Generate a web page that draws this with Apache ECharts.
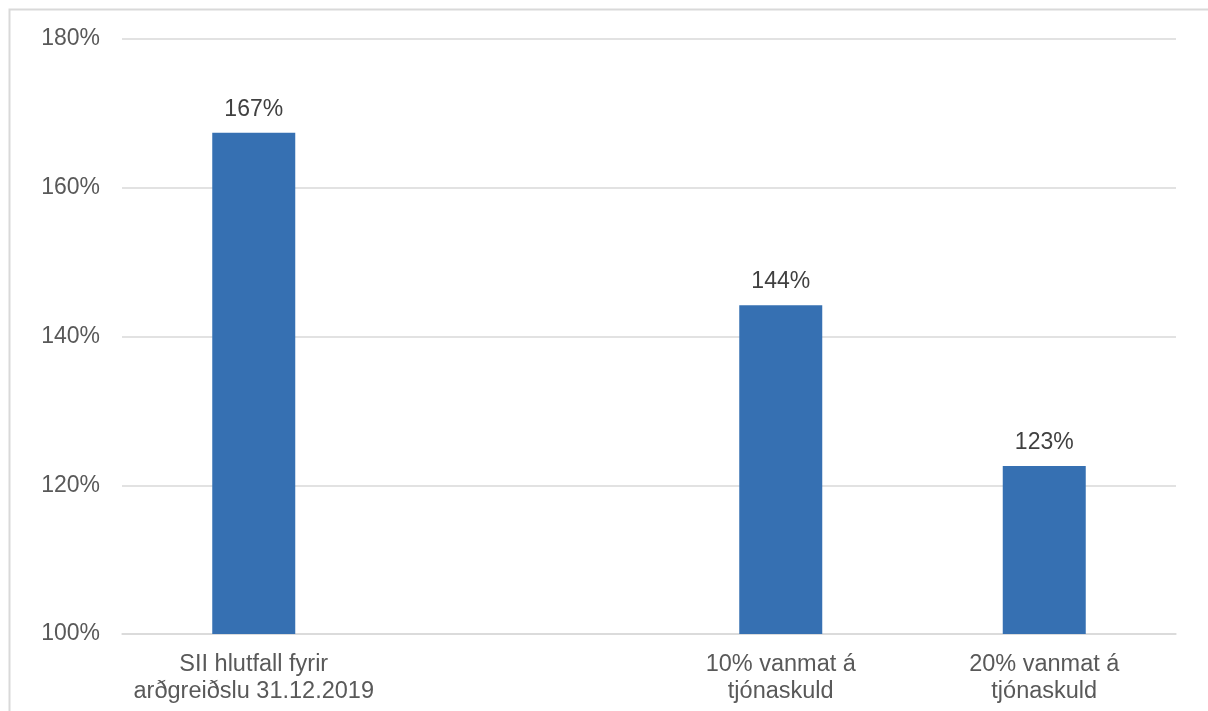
<!DOCTYPE html>
<html>
<head>
<meta charset="utf-8">
<script src="https://cdn.jsdelivr.net/npm/echarts@6/dist/echarts.min.js"></script>
<style>
  html, body { margin: 0; padding: 0; background: #ffffff; }
  #chart { width: 1208px; height: 711px; }
</style>
</head>
<body>
<div id="chart"></div>
<script>
// Solvency ratio scenarios
const categories = [
  'SII hlutfall fyrir\narðgreiðslu 31.12.2019',
  '',
  '10% vanmat á\ntjónaskuld',
  '20% vanmat á\ntjónaskuld'
];
const ratioValues = [167.4, null, 144.2, 122.6];
const yTicks = { min: 100, max: 180, step: 20 };

const chart = echarts.init(document.getElementById('chart'), null, { renderer: 'canvas' });

chart.setOption({
  backgroundColor: '#ffffff',
  animation: false,
  textStyle: { fontFamily: '"Liberation Sans", Arial, sans-serif' },
  graphic: [{
    type: 'rect',
    shape: { x: 9.5, y: 9.5, width: 1400, height: 900 },
    style: { fill: 'none', stroke: '#d9d9d9', lineWidth: 2 },
    silent: true
  }],
  grid: { left: 122, right: 32, top: 39, bottom: 77, containLabel: false },
  xAxis: {
    type: 'category',
    data: categories,
    axisLine: { show: true, lineStyle: { color: '#d9d9d9', width: 1.5 } },
    axisTick: { show: false },
    axisLabel: {
      color: '#595959',
      fontSize: 23.5,
      lineHeight: 27,
      margin: 17,
      interval: 0
    }
  },
  yAxis: {
    type: 'value',
    min: yTicks.min,
    max: yTicks.max,
    interval: yTicks.step,
    axisLine: { show: false },
    axisTick: { show: false },
    splitLine: { lineStyle: { color: '#d9d9d9', width: 1.5 } },
    axisLabel: {
      color: '#595959',
      fontSize: 23,
      margin: 22,
      formatter: v => v + '%'
    }
  },
  series: [{
    type: 'bar',
    data: ratioValues,
    barWidth: 83,
    itemStyle: { color: '#3670b2' },
    label: {
      show: true,
      position: 'top',
      distance: 12,
      color: '#404040',
      fontSize: 23,
      formatter: p => Math.round(p.value) + '%'
    }
  }]
});
</script>
</body>
</html>
